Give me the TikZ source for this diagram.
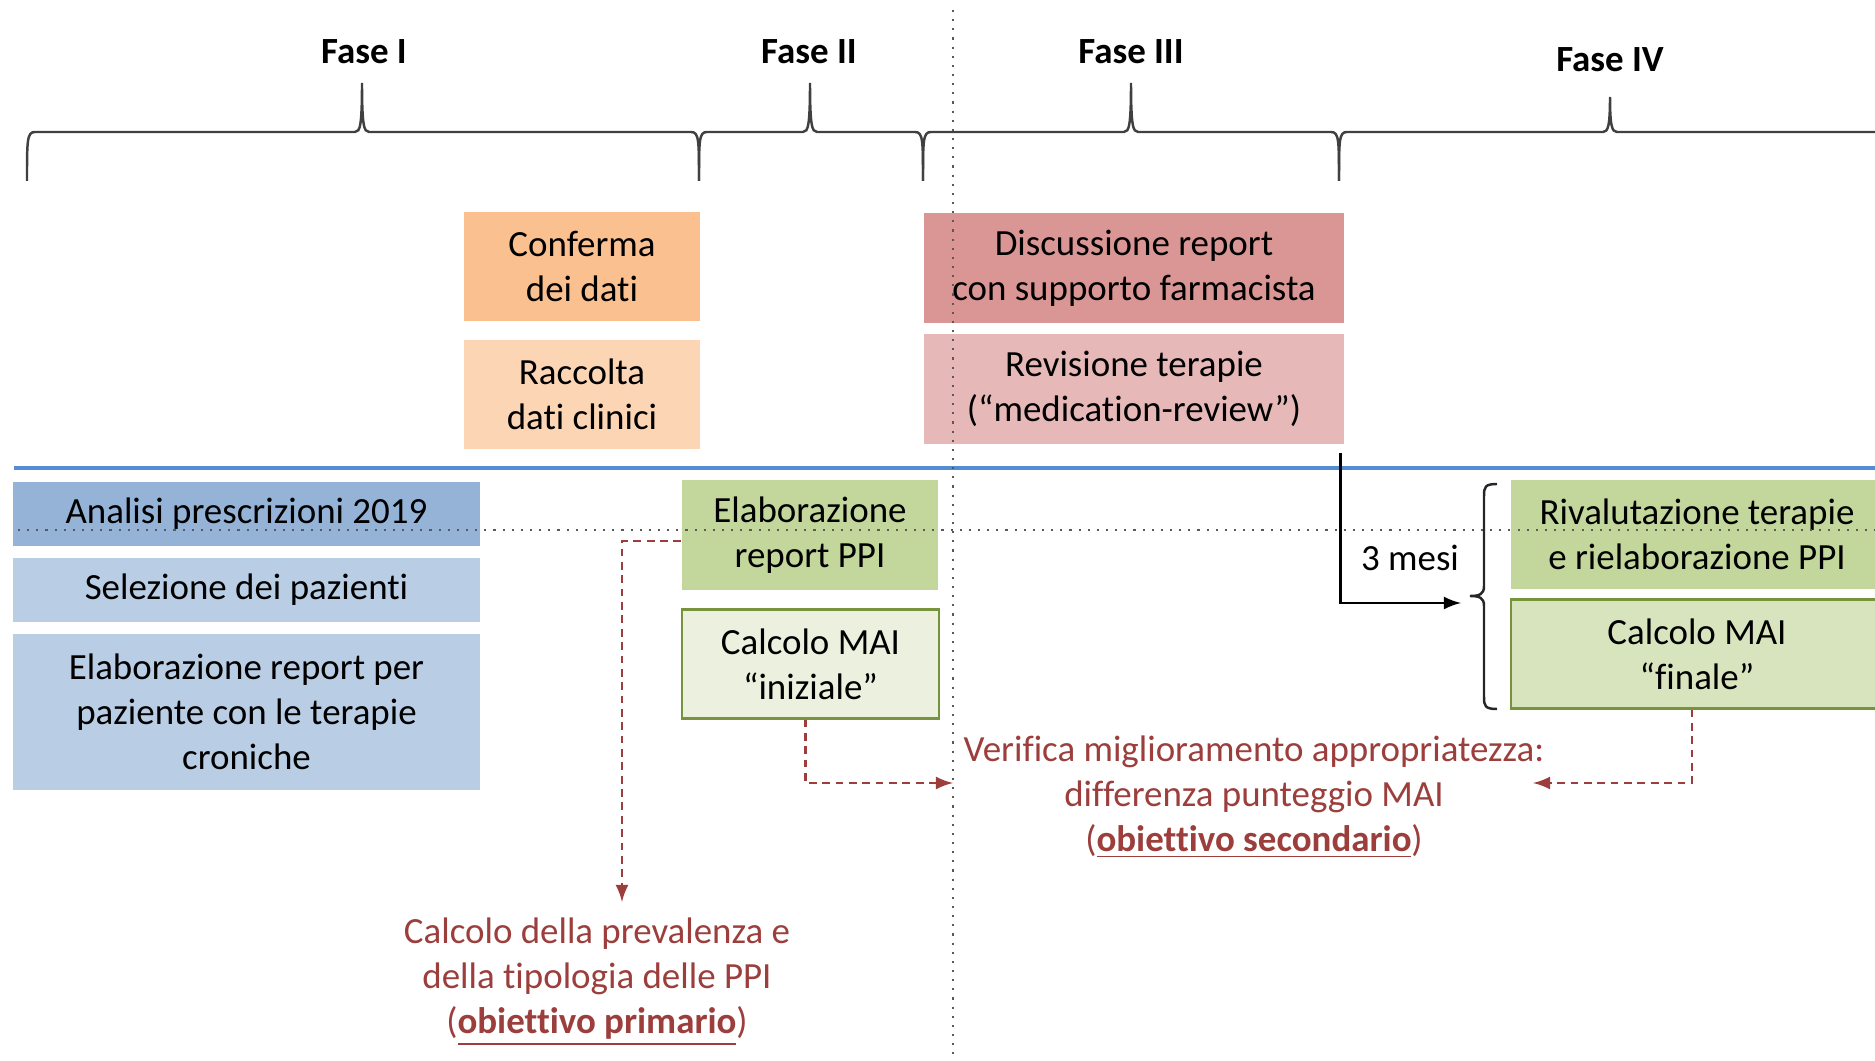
\documentclass[tikz,border=0pt]{standalone}
\usepackage{fontspec}
\setmainfont[Ligatures=NoCommon]{Carlito}
\usepackage{tikz}
\usetikzlibrary{arrows,positioning,calc}
\usepackage{xcolor}
\definecolor{phorange}{RGB}{250,192,144}
\definecolor{phorangelight}{RGB}{252,213,181}
\definecolor{phrose}{RGB}{217,150,148}
\definecolor{phroselight}{RGB}{230,185,184}
\definecolor{phblue}{RGB}{149,179,215}
\definecolor{phbluelight}{RGB}{185,205,229}
\definecolor{phline}{RGB}{84,141,212}
\definecolor{phgreen}{RGB}{195,214,155}
\definecolor{phgreenlight}{RGB}{215,228,189}
\definecolor{phgreenpale}{RGB}{235,241,222}
\definecolor{pholive}{RGB}{119,147,60}
\definecolor{phnote}{RGB}{155,62,60}
\newcommand{\boxfont}{\fontsize{10.5}{12.8}\selectfont}
\tikzstyle{stepbox} = [rectangle, inner sep=0pt, align=center, text=black, font=\boxfont]
\tikzstyle{notetext} = [align=center, inner sep=0.1cm, text=phnote, font=\boxfont]
\tikzstyle{notearrow} = [->, >=latex, dash pattern=on 2.2pt off 1.6pt, line width=0.7pt, color=phnote]
\tikzstyle{mesiarrow} = [->, >=latex, line width=0.7pt, color=black]
\tikzstyle{bracestyle} = [line width=0.7pt, color=black!75]
% phase brace: left x, tip x, right x, tip top y
\newcommand{\fasebrace}[4]{%
  \draw[bracestyle] (#1,181) .. controls (#1,140) and (#1,132) .. (#1+8,132)
    -- (#2-7,132) .. controls (#2-2,132) and (#2,126) .. (#2,#4)
    .. controls (#2,126) and (#2+2,132) .. (#2+7,132)
    -- (#3-8,132) .. controls (#3,132) and (#3,140) .. (#3,181);}

\begin{document}
\begin{tikzpicture}[x=0.01cm, y=-0.01cm]
\useasboundingbox (0,0) rectangle (1875,1061);

% Phases
\fasebrace{27}{362}{699}{83}
\fasebrace{699}{810}{923}{83}
\fasebrace{923}{1131}{1339}{83}
\fasebrace{1339}{1610}{1900}{97}
\node[font=\boxfont\bfseries] (fase1) at (364,52) {Fase I};
\node[font=\boxfont\bfseries] (fase2) at (809,52) {Fase II};
\node[font=\boxfont\bfseries] (fase3) at (1131,52) {Fase III};
\node[font=\boxfont\bfseries] (fase4) at (1610,60) {Fase IV};

% Upper activities
\node[stepbox, fill=phorange, minimum width=2.36cm, minimum height=1.09cm] (conferma) at (582,266.5) {Conferma\\dei dati};
\node[stepbox, fill=phorangelight, minimum width=2.36cm, minimum height=1.09cm] (raccolta) at (582,394.5) {Raccolta\\dati clinici};
\node[stepbox, fill=phrose, minimum width=4.19cm, minimum height=1.10cm] (discussione) at (1134,268) {Discussione report\\con supporto farmacista};
\node[stepbox, fill=phroselight, minimum width=4.19cm, minimum height=1.10cm] (revisione) at (1134,389) {Revisione terapie\\(“medication-review”)};

% Separator
\draw[line width=1.4pt, phline] (14,468) -- (1875,468);

% Lower activities
\node[stepbox, fill=phblue, minimum width=4.67cm, minimum height=0.64cm] (analisi) at (246.5,514) {Analisi prescrizioni 2019};
\node[stepbox, fill=phbluelight, minimum width=4.67cm, minimum height=0.64cm] (selezione) at (246.5,590) {Selezione dei pazienti};
\node[stepbox, fill=phbluelight, minimum width=4.67cm, minimum height=1.56cm] (elabpaz) at (246.5,712) {Elaborazione report per\\paziente con le terapie\\croniche};
\node[stepbox, fill=phgreen, minimum width=2.56cm, minimum height=1.10cm] (elabppi) at (810,535) {Elaborazione\\report PPI};
\node[stepbox, fill=phgreenpale, draw=pholive, line width=0.6pt, minimum width=2.56cm, minimum height=1.09cm] (maiiniz) at (810.5,664) {Calcolo MAI\\“iniziale”};
\node[stepbox, fill=phgreen, minimum width=3.72cm, minimum height=1.09cm] (rivalut) at (1697,534.5) {Rivalutazione terapie\\e rielaborazione PPI};
\node[stepbox, fill=phgreenlight, draw=pholive, line width=0.6pt, minimum width=3.72cm, minimum height=1.09cm] (maifinale) at (1697,654) {Calcolo MAI\\“finale”};

% 3 months follow-up
\draw[bracestyle, color=black!85] (1497,484) .. controls (1485,484) and (1484,487) .. (1484,496)
  -- (1484,586) .. controls (1484,594) and (1480,596) .. (1470,596)
  .. controls (1480,596) and (1484,598) .. (1484,606)
  -- (1484,697) .. controls (1484,706) and (1485,709) .. (1497,709);
\coordinate (mesitip) at (1461,603);
\draw[mesiarrow] ([shift={(-4,8)}]revisione.south east) |- (mesitip);
\node[font=\boxfont] (mesi) at (1410,558) {3 mesi};

% Objectives
\node[notetext] (primario) at (597,982) {Calcolo della prevalenza e\\della tipologia delle PPI\\(\underline{\textbf{obiettivo primario}})};
\node[notetext] (secondario) at (1254,797) {Verifica miglioramento appropriatezza:\\differenza punteggio MAI\\(\underline{\textbf{obiettivo secondario}})};
\coordinate (primtip) at (622,902);
\coordinate (secleft) at (953,783);
\coordinate (secright) at (1533,783);
\draw[notearrow] ([yshift=-0.06cm]elabppi.west) -| (primtip);
\draw[notearrow] ([xshift=-0.05cm]maiiniz.south) |- (secleft);
\draw[notearrow] ([xshift=-0.05cm]maifinale.south) |- (secright);

% Guides
\draw[black!65, line width=0.6pt, dotted] (18,530) -- (1875,530);
\draw[black!65, line width=0.6pt, dotted] (953,10) -- (953,1061);
\end{tikzpicture}
\end{document}
